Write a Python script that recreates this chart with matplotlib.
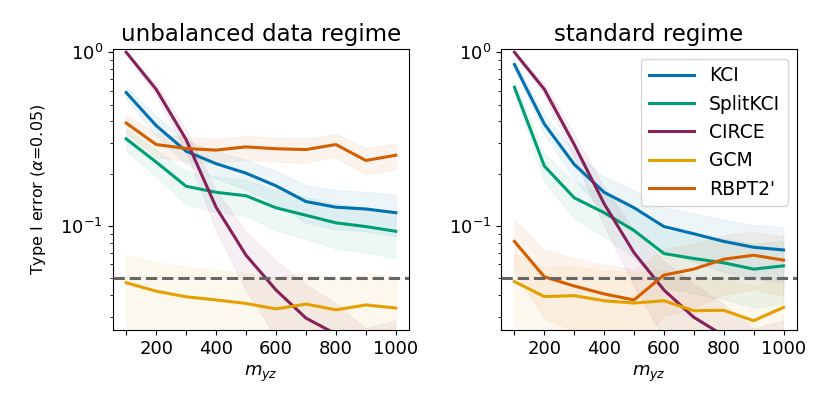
import matplotlib
matplotlib.use("Agg")
import matplotlib.pyplot as plt
import numpy as np

m_yz = [100, 200, 300, 400, 500, 600, 700, 800, 900, 1000]
methods = ["KCI", "SplitKCI", "CIRCE", "GCM", "RBPT2'"]
colors = {"KCI": "#0072B2", "SplitKCI": "#009E73", "CIRCE": "#85205A",
          "GCM": "#E69F00", "RBPT2'": "#D55E00"}

# unbalanced data regime: mean type I error and CI half-width
unbal_kci = [0.586, 0.378, 0.269, 0.228, 0.201, 0.170, 0.138, 0.128, 0.125, 0.119]
unbal_kci_ci = [0.048, 0.048, 0.043, 0.041, 0.039, 0.037, 0.034, 0.033, 0.032, 0.032]
unbal_split = [0.317, 0.233, 0.169, 0.156, 0.149, 0.127, 0.115, 0.104, 0.099, 0.093]
unbal_split_ci = [0.046, 0.041, 0.037, 0.036, 0.035, 0.033, 0.031, 0.030, 0.029, 0.028]
unbal_circe = [1.0, 0.612, 0.314, 0.128, 0.0677, 0.0427, 0.0294, 0.0238, 0.014, 0.016]
unbal_circe_ci = [0.0, 0.048, 0.045, 0.033, 0.025, 0.020, 0.0166, 0.012, 0.0115, 0.0123]
unbal_gcm = [0.047, 0.042, 0.039, 0.0374, 0.0357, 0.0332, 0.0354, 0.0328, 0.035, 0.0336]
unbal_gcm_ci = [0.021, 0.0197, 0.019, 0.0186, 0.018, 0.0175, 0.018, 0.0175, 0.018, 0.0176]
unbal_rbpt = [0.391, 0.294, 0.279, 0.273, 0.285, 0.278, 0.275, 0.294, 0.238, 0.255]
unbal_rbpt_ci = [0.048, 0.045, 0.044, 0.0437, 0.0442, 0.044, 0.0438, 0.045, 0.042, 0.043]

# standard regime
std_kci = [0.850, 0.386, 0.226, 0.156, 0.127, 0.099, 0.090, 0.0813, 0.0752, 0.0726]
std_kci_ci = [0.035, 0.048, 0.041, 0.036, 0.033, 0.029, 0.028, 0.027, 0.026, 0.0254]
std_split = [0.628, 0.221, 0.145, 0.119, 0.094, 0.0692, 0.0648, 0.0612, 0.0563, 0.0588]
std_split_ci = [0.047, 0.041, 0.0345, 0.032, 0.0286, 0.025, 0.024, 0.0235, 0.0226, 0.023]
std_circe = [1.0, 0.612, 0.294, 0.134, 0.070, 0.0427, 0.0297, 0.0233, 0.014, 0.016]
std_circe_ci = [0.0, 0.048, 0.045, 0.0334, 0.025, 0.020, 0.0166, 0.012, 0.0115, 0.0123]
std_gcm = [0.0477, 0.0391, 0.0396, 0.037, 0.0359, 0.037, 0.0324, 0.0326, 0.0284, 0.0339]
std_gcm_ci = [0.021, 0.019, 0.019, 0.0185, 0.018, 0.0185, 0.0174, 0.0174, 0.0163, 0.0177]
std_rbpt = [0.0813, 0.0508, 0.045, 0.0405, 0.0374, 0.052, 0.0563, 0.0642, 0.0677, 0.0634]
std_rbpt_ci = [0.027, 0.0215, 0.0203, 0.0193, 0.0186, 0.0218, 0.0226, 0.024, 0.0246, 0.0239]

panels = [
    ("unbalanced data regime", {
        "KCI": (unbal_kci, unbal_kci_ci), "SplitKCI": (unbal_split, unbal_split_ci),
        "CIRCE": (unbal_circe, unbal_circe_ci), "GCM": (unbal_gcm, unbal_gcm_ci),
        "RBPT2'": (unbal_rbpt, unbal_rbpt_ci)}),
    ("standard regime", {
        "KCI": (std_kci, std_kci_ci), "SplitKCI": (std_split, std_split_ci),
        "CIRCE": (std_circe, std_circe_ci), "GCM": (std_gcm, std_gcm_ci),
        "RBPT2'": (std_rbpt, std_rbpt_ci)}),
]
alpha_level = 0.05
xtick_vals = [100, 200, 300, 400, 500, 600, 700, 800, 900, 1000]
xtick_labels = ["", "200", "", "400", "", "600", "", "800", "", "1000"]

fig = plt.figure(figsize=(8.3, 4.15), dpi=100)
ax_rects = [[0.1358, 0.2041, 0.3573, 0.6771], [0.6036, 0.2041, 0.3566, 0.6771]]

for i, (title, data) in enumerate(panels):
    ax = fig.add_axes(ax_rects[i])
    x = np.array(m_yz)
    for name in methods:
        mean, ci = data[name]
        mean = np.array(mean); ci = np.array(ci)
        ax.fill_between(x, np.clip(mean - ci, 1e-4, None), mean + ci,
                        color=colors[name], alpha=0.07, linewidth=0.6)
        ax.plot(x, mean, color=colors[name], lw=2.2, label=name)
    ax.axhline(alpha_level, color="#666666", lw=2.2, ls="--", zorder=5)
    ax.set_yscale("log")
    ax.set_ylim(0.025, 1.04)
    ax.set_xticks(xtick_vals)
    ax.set_xticklabels(xtick_labels)
    ax.tick_params(labelsize=13)
    ax.set_title(title, fontsize=16.5)
    ax.set_xlabel("$m_{yz}$", fontsize=13)
    if i == 0:
        ax.set_ylabel(r"Type I error ($\alpha$=0.05)", fontsize=11.5, labelpad=9)
    else:
        ax.legend(loc="upper right", fontsize=13.5, handlelength=2.4)

fig.savefig("out.png", dpi=100)
